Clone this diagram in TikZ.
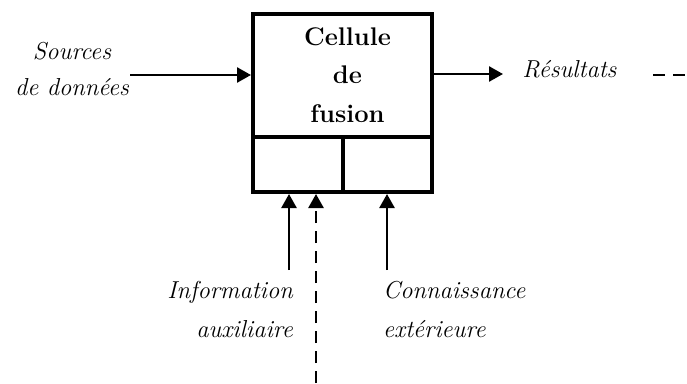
\documentclass[tikz,border=0pt]{standalone}
\usepackage{fontspec}
\usetikzlibrary{arrows.meta}
\begin{document}
\begin{tikzpicture}[x=1pt,y=-1pt,
  part/.style={draw,line width=4pt,inner sep=0pt},
  arr/.style={line width=2.5pt,-{Triangle[length=14pt,width=15pt]}},
  dsh/.style={dash pattern=on 12pt off 8pt},
  lbl/.style={inner sep=0pt,font=\fontsize{24.5}{36}\selectfont\itshape},
  ttl/.style={inner sep=0pt,font=\fontsize{25.5}{38.5}\selectfont\bfseries}]
\useasboundingbox[fill=white] (0,0) rectangle (687,383);
% fusion cell
\node[part,minimum width=179pt,minimum height=123pt] (up) at (342.5,75.5) {};
\node[part,minimum width=90pt,minimum height=55pt] (lowL) at (298,164.5) {};
\node[part,minimum width=89pt,minimum height=55pt] (lowR) at (387.5,164.5) {};
\node[ttl,anchor=base,align=center] (title) at (347.5,122) {Cellule\\de\\fusion};
% labels
\node[lbl,anchor=base,align=center] (src) at (72,95) {Sources\\de données};
\node[lbl,anchor=base] (res) at (569.5,77) {Résultats};
\node[lbl,anchor=base east,align=right,font=\fontsize{24.5}{39}\selectfont\itshape] (inf) at (293,337) {Information\\auxiliaire};
\node[lbl,anchor=base west,align=left,font=\fontsize{24.5}{39}\selectfont\itshape] (con) at (383,337) {Connaissance\\extérieure};
% connectors
\coordinate (s0) at (130,75);
\draw[arr] (s0) -- (s0 -| up.west);
\coordinate (r1) at (503,74);
\draw[arr] (up.east |- r1) -- (r1);
\coordinate (q0) at (653,75);
\coordinate (q1) at (687,75);
\draw[line width=2.5pt,dsh] (q0) -- (q1);
\coordinate (i0) at (289,270);
\draw[arr] (i0) -- (i0 |- lowL.south);
\coordinate (d0) at (316,383);
\draw[arr,dsh] (d0) -- (d0 |- lowL.south);
\coordinate (c0) at (387,270);
\draw[arr] (c0) -- (c0 |- lowR.south);
\end{tikzpicture}
\end{document}
